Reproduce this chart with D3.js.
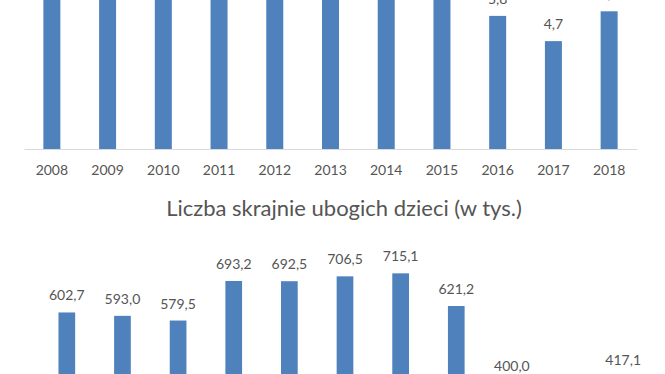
<!DOCTYPE html>
<html>
<head>
<meta charset="utf-8">
<script src="https://cdn.jsdelivr.net/npm/d3@7"></script>
<style>
  html, body { margin: 0; padding: 0; background: #fff; overflow: hidden; }
  svg { display: block; }
  text { font-family: Lato, "Open Sans", "Liberation Sans", sans-serif; fill: #555555; }
</style>
</head>
<body>
<svg id="chart" width="665" height="374"></svg>
<script>
// Data
const years = ["2008","2009","2010","2011","2012","2013","2014","2015","2016","2017","2018"];
// Top chart: extreme poverty rate among children (%) – upper bars cropped in the reference, values estimated
const rateValues = [8.2, 8.1, 8.0, 9.6, 9.7, 10.0, 10.3, 9.0, 5.8, 4.7, 6.0];
// Bottom chart: number of children in extreme poverty (thousands); 2017 estimated (cropped)
const countValues = [602.7, 593.0, 579.5, 693.2, 692.5, 706.5, 715.1, 621.2, 400.0, 324.0, 417.1];
const countTitle = "Liczba skrajnie ubogich dzieci (w tys.)";

const fmt = v => d3.format(".1f")(v).replace(".", ",");
const barColor = "#4f81bd";
const svg = d3.select("#chart");

function barChart(g, values, opts) {
  const x = d3.scaleBand().domain(years).range(opts.xRange)
    .paddingInner(opts.pad).paddingOuter(opts.pad / 2);
  const y = d3.scaleLinear().domain(opts.yDomain).range(opts.yRange);
  const data = years.map((yr, i) => ({ yr, v: values[i] }));
  g.selectAll("rect.bar").data(data).join("rect")
    .attr("class", "bar")
    .attr("x", d => x(d.yr))
    .attr("width", x.bandwidth())
    .attr("y", d => y(d.v))
    .attr("height", d => y(0) - y(d.v))
    .attr("fill", barColor);
  g.selectAll("text.lbl").data(data).join("text")
    .attr("class", "lbl")
    .attr("x", d => x(d.yr) + x.bandwidth() / 2)
    .attr("y", d => y(d.v) - 12)
    .attr("text-anchor", "middle")
    .style("font-size", "14px")
    .text(d => fmt(d.v));
  const ax = g.append("g").attr("transform", `translate(0,${y(0)})`)
    .call(d3.axisBottom(x).tickSize(0).tickPadding(16));
  ax.select(".domain").attr("stroke", "#d9d9d9").attr("stroke-width", 1);
  ax.selectAll(".tick text").style("font-size", "14px")
    .style("font-family", "Lato, 'Open Sans', sans-serif").attr("fill", "#555555");
  return { x, y };
}

// Top chart (cropped at the top)
barChart(svg.append("g"), rateValues, {
  xRange: [24, 637], pad: 0.695,
  yDomain: [0, 12], yRange: [149, 149 - 12 * 22.95]
});

// Bottom chart (cropped at the bottom)
svg.append("text")
  .attr("x", 344).attr("y", 216)
  .attr("text-anchor", "middle")
  .style("font-size", "22px")
  .text(countTitle);

barChart(svg.append("g"), countValues, {
  xRange: [39, 651], pad: 0.7,
  yDomain: [0, 800], yRange: [522.2, 522.2 - 800 * 0.348]
});
</script>
</body>
</html>
